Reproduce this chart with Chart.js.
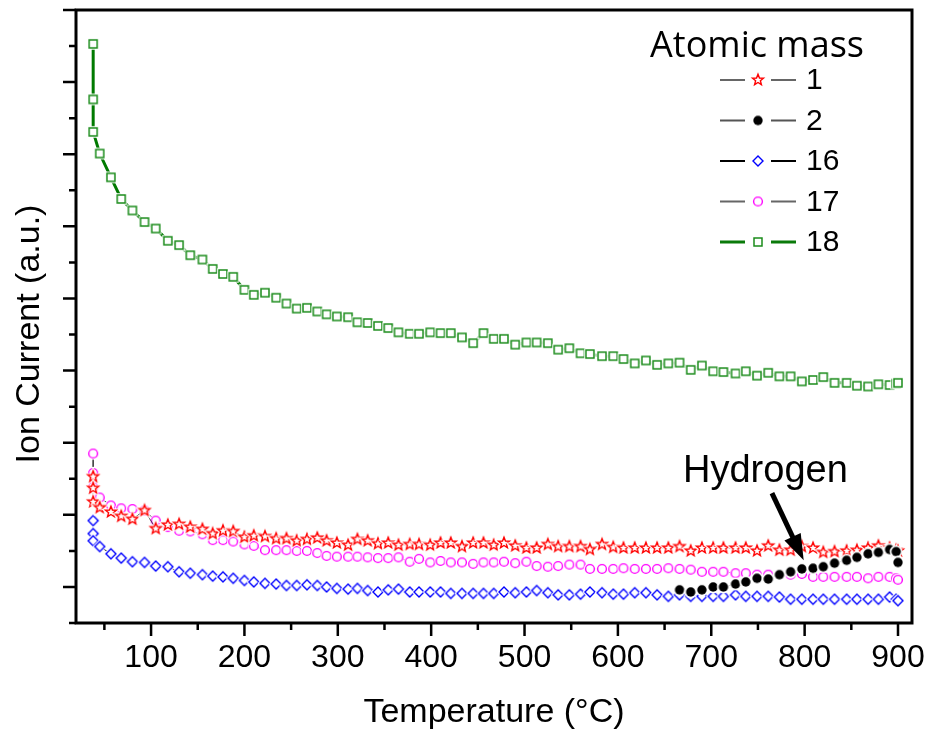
<!DOCTYPE html>
<html>
<head>
<meta charset="utf-8">
<title>Ion current vs temperature</title>
<script src="https://cdn.jsdelivr.net/npm/chart.js@4.4.0/dist/chart.umd.min.js"></script>
<style>
  html, body { margin: 0; padding: 0; background: #fff; }
  #wrap { width: 927px; height: 733px; }
</style>
</head>
<body>
<div id="wrap"><canvas id="chart" width="927" height="733"></canvas></div>
<script>
// ----------------------------
// Data (arbitrary units)
// ----------------------------
var temps = [38, 38, 38, 45, 57, 68, 80, 93, 105, 118, 130, 142, 155, 166, 177, 188, 200, 210, 222, 234,
    245, 256, 267, 278, 288, 299, 311, 321, 332, 343, 354, 365, 377, 387, 399, 410, 421, 433, 445, 456,
    467, 478, 490, 502, 513, 525, 536, 548, 560, 570, 583, 595, 606, 618, 630, 642, 654, 666, 678, 690,
    702, 713, 726, 737, 749, 761, 773, 785, 797, 809, 820, 832, 845, 856, 868, 879, 891, 898, 900];

var mass1 = [1.53, 1.37, 1.18, 1.10, 1.04, 0.98, 0.94, 1.06, 0.81, 0.86, 0.87, 0.83, 0.80, 0.74, 0.78, 0.77, 0.69, 0.71, 0.70, 0.67,
    0.67, 0.64, 0.66, 0.68, 0.64, 0.61, 0.58, 0.66, 0.64, 0.60, 0.61, 0.58, 0.59, 0.59, 0.58, 0.61, 0.61, 0.56, 0.61, 0.61,
    0.58, 0.61, 0.57, 0.54, 0.54, 0.59, 0.56, 0.56, 0.56, 0.52, 0.59, 0.55, 0.54, 0.54, 0.54, 0.54, 0.54, 0.56, 0.50, 0.54,
    0.54, 0.54, 0.54, 0.54, 0.50, 0.57, 0.51, 0.51, 0.56, 0.54, 0.48, 0.49, 0.50, 0.51, 0.54, 0.57, 0.54, 0.51, 0.50];

var mass16 = [0.92, 0.74, 0.64, 0.56, 0.46, 0.40, 0.35, 0.34, 0.29, 0.28, 0.21, 0.19, 0.17, 0.15, 0.14, 0.12, 0.09, 0.07, 0.05, 0.04,
    0.02, 0.02, 0.03, 0.02, 0.00, -0.02, -0.03, -0.02, -0.05, -0.07, -0.04, -0.03, -0.07, -0.07, -0.07, -0.07, -0.09, -0.09, -0.09, -0.09,
    -0.09, -0.07, -0.08, -0.07, -0.05, -0.08, -0.11, -0.11, -0.10, -0.07, -0.08, -0.10, -0.10, -0.08, -0.08, -0.11, -0.13, -0.11, -0.13, -0.13,
    -0.13, -0.13, -0.11, -0.13, -0.13, -0.13, -0.14, -0.17, -0.17, -0.17, -0.17, -0.17, -0.17, -0.17, -0.17, -0.17, -0.14, -0.17, -0.19];

var mass17 = [1.85, 1.58, 1.39, 1.24, 1.13, 1.09, 1.08, 1.06, 0.92, 0.83, 0.78, 0.77, 0.73, 0.65, 0.65, 0.63, 0.59, 0.57, 0.51, 0.51,
    0.51, 0.50, 0.50, 0.47, 0.43, 0.42, 0.42, 0.42, 0.41, 0.40, 0.40, 0.41, 0.35, 0.39, 0.34, 0.36, 0.34, 0.34, 0.32, 0.34,
    0.34, 0.35, 0.33, 0.35, 0.29, 0.28, 0.29, 0.31, 0.31, 0.25, 0.25, 0.25, 0.26, 0.25, 0.25, 0.25, 0.26, 0.25, 0.24, 0.21,
    0.21, 0.21, 0.19, 0.19, 0.17, 0.17, 0.17, 0.17, 0.18, 0.14, 0.14, 0.14, 0.14, 0.14, 0.12, 0.14, 0.14, 0.12, 0.10];

var mass18 = [7.53, 6.76, 6.31, 6.01, 5.68, 5.38, 5.22, 5.06, 4.97, 4.80, 4.74, 4.60, 4.54, 4.41, 4.34, 4.30, 4.12, 4.05, 4.08, 4.01,
    3.93, 3.86, 3.87, 3.82, 3.78, 3.75, 3.74, 3.67, 3.66, 3.62, 3.59, 3.53, 3.51, 3.51, 3.53, 3.52, 3.52, 3.46, 3.38, 3.52,
    3.44, 3.44, 3.36, 3.39, 3.39, 3.38, 3.29, 3.31, 3.24, 3.23, 3.20, 3.20, 3.16, 3.10, 3.14, 3.08, 3.10, 3.11, 3.01, 3.07,
    2.99, 2.98, 2.96, 2.99, 2.93, 2.97, 2.92, 2.92, 2.85, 2.87, 2.91, 2.83, 2.83, 2.79, 2.78, 2.81, 2.80, 2.82, 2.83];

// hydrogen (mass 2) only shows up above ~660 C
var h2Temps = [666, 678, 690, 702, 713, 726, 737, 749, 761, 773, 785, 797, 809, 820, 832, 845, 856, 868, 879, 891, 898, 900];
var mass2 = [-0.04, -0.07, -0.04, 0.00, 0.00, 0.04, 0.07, 0.12, 0.11, 0.17, 0.21, 0.25, 0.26, 0.28, 0.33, 0.37, 0.41, 0.46, 0.48, 0.52, 0.49, 0.34];

var xMajorTicks = [100, 200, 300, 400, 500, 600, 700, 800, 900];
var xMinorTicks = [50, 150, 250, 350, 450, 550, 650, 750, 850];
var yMajorTicks = [0, 1, 2, 3, 4, 5, 6, 7, 8];
var yMinorTicks = [-0.5, 0.5, 1.5, 2.5, 3.5, 4.5, 5.5, 6.5, 7.5];

var legendLabels = ['1', '2', '16', '17', '18'];

// annotation: "Hydrogen" label and arrow, in data units
var hydrogenText = { x: 758, y: 1.45 };
var arrowFrom = { x: 765, y: 1.30 };
var arrowTo = { x: 799, y: 0.37 };

var FONT = '"Liberation Sans", Arial, sans-serif';

// ----------------------------
// Marker images (hollow symbols with a thin white gap around them)
// ----------------------------
function makeMarker(shape, color) {
    var c = document.createElement('canvas');
    c.width = 20; c.height = 20;
    var g = c.getContext('2d');
    g.translate(10, 10);

    function path() {
        g.beginPath();
        if (shape === 'star') {
            for (var i = 0; i < 10; i++) {
                var r = (i % 2 === 0) ? 5.8 : 2.5;
                var a = -Math.PI / 2 + i * Math.PI / 5;
                if (i === 0) g.moveTo(r * Math.cos(a), r * Math.sin(a));
                else g.lineTo(r * Math.cos(a), r * Math.sin(a));
            }
            g.closePath();
        } else if (shape === 'circle') {
            g.arc(0, 0, 4.4, 0, Math.PI * 2);
        } else if (shape === 'diamond') {
            g.moveTo(0, -5); g.lineTo(5, 0); g.lineTo(0, 5); g.lineTo(-5, 0); g.closePath();
        } else if (shape === 'square') {
            g.rect(-4, -4, 8, 8);
        } else if (shape === 'dot') {
            g.arc(0, 0, 4.7, 0, Math.PI * 2);
        }
    }

    path();
    g.fillStyle = '#fff';
    g.fill();
    g.strokeStyle = '#fff';
    g.lineWidth = 3.5;
    g.stroke();

    path();
    if (shape === 'dot') {
        g.fillStyle = color;
        g.fill();
    } else {
        g.strokeStyle = color;
        g.lineWidth = shape === 'square' ? 1.5 : 1.4;
        g.stroke();
    }
    return c;
}

var markers = {
    m1: makeMarker('star', '#ff0000'),
    m2: makeMarker('dot', '#000000'),
    m16: makeMarker('diamond', '#0000ff'),
    m17: makeMarker('circle', '#ff00ff'),
    m18: makeMarker('square', '#1b8c1b')
};

function toPoints(xs, ys) {
    return xs.map(function (t, i) { return { x: t, y: ys[i] }; });
}

// ----------------------------
// Frame, ticks, titles, legend and annotation
// ----------------------------
var legendRows = [
    { label: legendLabels[0], marker: markers.m1, line: '#666', width: 2 },
    { label: legendLabels[1], marker: markers.m2, line: '#555', width: 2 },
    { label: legendLabels[2], marker: markers.m16, line: '#000', width: 2 },
    { label: legendLabels[3], marker: markers.m17, line: '#666', width: 2 },
    { label: legendLabels[4], marker: markers.m18, line: '#0a7a0a', width: 3 }
];

var decor = {
    id: 'decor',
    afterDraw: function (chart) {
        var ctx = chart.ctx;
        var a = chart.chartArea;
        var sx = chart.scales.x, sy = chart.scales.y;
        ctx.save();

        // frame
        ctx.strokeStyle = '#000';
        ctx.lineWidth = 3;
        ctx.strokeRect(a.left, a.top, a.right - a.left, a.bottom - a.top);

        // tick marks (outward)
        ctx.lineWidth = 2.5;
        ctx.beginPath();
        xMajorTicks.forEach(function (v) {
            var p = sx.getPixelForValue(v);
            ctx.moveTo(p, a.bottom); ctx.lineTo(p, a.bottom + 13);
        });
        xMinorTicks.forEach(function (v) {
            var p = sx.getPixelForValue(v);
            ctx.moveTo(p, a.bottom); ctx.lineTo(p, a.bottom + 7);
        });
        yMajorTicks.forEach(function (v) {
            var p = sy.getPixelForValue(v);
            ctx.moveTo(a.left, p); ctx.lineTo(a.left - 13, p);
        });
        yMinorTicks.forEach(function (v) {
            var p = sy.getPixelForValue(v);
            ctx.moveTo(a.left, p); ctx.lineTo(a.left - 7, p);
        });
        ctx.stroke();

        // axis titles
        ctx.fillStyle = '#000';
        ctx.font = '34px ' + FONT;
        ctx.textAlign = 'center';
        ctx.textBaseline = 'middle';
        ctx.fillText('Temperature (°C)', (a.left + a.right) / 2, 713);
        ctx.save();
        ctx.translate(30, 334);
        ctx.rotate(-Math.PI / 2);
        ctx.fillText('Ion Current (a.u.)', 0, 0);
        ctx.restore();

        // legend
        ctx.font = '36px "Open Sans", sans-serif';
        ctx.textBaseline = 'alphabetic';
        ctx.fillText('Atomic mass', 757, 57);
        ctx.font = '30px ' + FONT;
        ctx.textAlign = 'left';
        ctx.textBaseline = 'middle';
        legendRows.forEach(function (row, i) {
            var cy = 80 + i * 40.5;
            ctx.strokeStyle = row.line;
            ctx.lineWidth = row.width;
            ctx.beginPath();
            ctx.moveTo(720, cy); ctx.lineTo(745, cy);
            ctx.moveTo(771, cy); ctx.lineTo(796, cy);
            ctx.stroke();
            ctx.drawImage(row.marker, 758 - row.marker.width / 2, cy - row.marker.height / 2);
            ctx.fillText(row.label, 806, cy + 1);
        });

        // Hydrogen annotation
        ctx.font = '38px ' + FONT;
        ctx.textAlign = 'center';
        ctx.textBaseline = 'alphabetic';
        ctx.fillText('Hydrogen', sx.getPixelForValue(hydrogenText.x), sy.getPixelForValue(hydrogenText.y));

        var x0 = sx.getPixelForValue(arrowFrom.x), y0 = sy.getPixelForValue(arrowFrom.y);
        var x1 = sx.getPixelForValue(arrowTo.x), y1 = sy.getPixelForValue(arrowTo.y);
        var dx = x1 - x0, dy = y1 - y0, len = Math.sqrt(dx * dx + dy * dy);
        var ux = dx / len, uy = dy / len;
        var bx = x1 - ux * 26, by = y1 - uy * 26;
        ctx.strokeStyle = '#000';
        ctx.lineWidth = 5;
        ctx.beginPath();
        ctx.moveTo(x0, y0); ctx.lineTo(bx + ux * 4, by + uy * 4);
        ctx.stroke();
        ctx.beginPath();
        ctx.moveTo(x1, y1);
        ctx.lineTo(bx - uy * 9, by + ux * 9);
        ctx.lineTo(bx + uy * 9, by - ux * 9);
        ctx.closePath();
        ctx.fillStyle = '#000';
        ctx.fill();

        ctx.restore();
    }
};

// ----------------------------
// Chart
// ----------------------------
var ctx = document.getElementById('chart').getContext('2d');
new Chart(ctx, {
    type: 'line',
    data: {
        datasets: [
            { label: '2', data: toPoints(h2Temps, mass2), borderColor: '#333', borderWidth: 1, pointStyle: markers.m2, order: 0 },
            { label: '1', data: toPoints(temps, mass1), borderColor: '#444', borderWidth: 1, pointStyle: markers.m1, order: 1 },
            { label: '17', data: toPoints(temps, mass17), borderColor: '#444', borderWidth: 1, pointStyle: markers.m17, order: 2 },
            { label: '16', data: toPoints(temps, mass16), borderColor: '#222', borderWidth: 1, pointStyle: markers.m16, order: 3 },
            { label: '18', data: toPoints(temps, mass18), borderColor: '#007a00', borderWidth: 3, pointStyle: markers.m18, order: 4 }
        ]
    },
    options: {
        responsive: false,
        animation: false,
        events: [],
        layout: { padding: { top: 10, right: 15, left: 0, bottom: 0 } },
        elements: {
            line: { tension: 0, fill: false },
            point: { radius: 4 }
        },
        plugins: {
            legend: { display: false },
            tooltip: { enabled: false }
        },
        scales: {
            x: {
                type: 'linear',
                min: 19.6,
                max: 915,
                grid: { display: false, drawTicks: false },
                border: { display: false },
                ticks: {
                    color: '#000',
                    font: { family: FONT, size: 32 },
                    padding: 16,
                    maxRotation: 0,
                    autoSkip: false,
                    callback: function (v) { return String(v); }
                },
                afterBuildTicks: function (scale) {
                    scale.ticks = xMajorTicks.map(function (v) { return { value: v }; });
                },
                afterFit: function (scale) {
                    scale.height = 110;
                    // the 900 label may hang past the frame, as in the original
                    scale.paddingLeft = 0;
                    scale.paddingRight = 0;
                }
            },
            y: {
                min: -0.5,
                max: 8,
                grid: { display: false, drawTicks: false },
                border: { display: false },
                ticks: { display: false },
                afterFit: function (scale) {
                    scale.width = 76;
                    scale.paddingTop = 0;
                    scale.paddingBottom = 0;
                }
            }
        }
    },
    plugins: [decor]
});
</script>
</body>
</html>
